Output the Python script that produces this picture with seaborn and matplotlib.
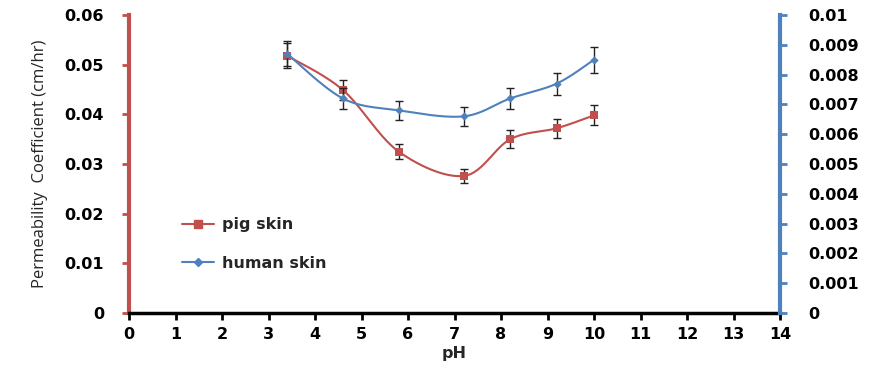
import numpy as np
import pandas as pd
import seaborn as sns
import matplotlib.pyplot as plt
from matplotlib.lines import Line2D

# pH values and measured permeability coefficients (cm/hr)
ph = [3.4, 4.6, 5.8, 7.2, 8.2, 9.2, 10.0]
pig_skin = [0.0518, 0.0449, 0.0325, 0.0276, 0.0350, 0.0372, 0.0398]
pig_err = [0.0025, 0.0020, 0.0015, 0.0014, 0.0018, 0.0019, 0.0020]
human_skin = [0.0087, 0.0072, 0.0068, 0.0066, 0.0072, 0.0077, 0.0085]
human_err = [0.00042, 0.00036, 0.00033, 0.00032, 0.00035, 0.00037, 0.00043]

left_ticks = [0, 0.01, 0.02, 0.03, 0.04, 0.05, 0.06]
left_labels = ["0", "0.01", "0.02", "0.03", "0.04", "0.05", "0.06"]
right_ticks = [i / 1000 for i in range(11)]
right_labels = ["0"] + [f"{v:.3f}" for v in right_ticks[1:-1]] + ["0.01"]
x_ticks = list(range(15))

RED = "#C0504D"
BLUE = "#4F81BD"


def smooth(xs, ys, n=30):
    """Cardinal (Catmull-Rom) spline through the points, as spreadsheet 'smoothed lines'."""
    p = np.column_stack([xs, ys]).astype(float)
    ext = np.vstack([p[0], p, p[-1]])
    out = []
    for i in range(len(p) - 1):
        p0, p1, p2, p3 = ext[i], ext[i + 1], ext[i + 2], ext[i + 3]
        c1 = p1 + (p2 - p0) / 6.0
        c2 = p2 - (p3 - p1) / 6.0
        t = np.linspace(0, 1, n)[:, None]
        seg = ((1 - t) ** 3) * p1 + 3 * ((1 - t) ** 2) * t * c1 + 3 * (1 - t) * t ** 2 * c2 + t ** 3 * p2
        out.append(seg if i == 0 else seg[1:])
    seg = np.vstack(out)
    return seg[:, 0], seg[:, 1]


sns.set_style("white")
plt.rcParams["font.family"] = ["DejaVu Sans"]

fig = plt.figure(figsize=(8.76, 3.66), dpi=100)
ax = fig.add_axes([129 / 876, 1 - 313 / 366, 651 / 876, 298 / 366])
ax2 = ax.twinx()

# pig skin on the left axis
sx, sy = smooth(ph, pig_skin)
sns.lineplot(x=sx, y=sy, ax=ax, color=RED, linewidth=1.5, sort=False, zorder=2)
ax.errorbar(ph, pig_skin, yerr=pig_err, fmt="none", ecolor="#222222",
            elinewidth=1.0, capsize=2.6, capthick=1.0, zorder=3)
sns.scatterplot(x=ph, y=pig_skin, ax=ax, marker="s", color=RED, s=36,
                edgecolor=RED, linewidth=0, zorder=4)

# human skin on the right axis
hx, hy = smooth(ph, human_skin)
sns.lineplot(x=hx, y=hy, ax=ax2, color=BLUE, linewidth=1.5, sort=False, zorder=2)
ax2.errorbar(ph, human_skin, yerr=human_err, fmt="none", ecolor="#222222",
             elinewidth=1.0, capsize=2.6, capthick=1.0, zorder=3)
sns.scatterplot(x=ph, y=human_skin, ax=ax2, marker="D", color=BLUE, s=18,
                edgecolor=BLUE, linewidth=0, zorder=4)

ax.set_xlim(0, 14)
ax.set_ylim(0, 0.06)
ax2.set_ylim(0, 0.01)

bold = dict(fontweight="bold", fontsize=11.5)
ax.set_xticks(x_ticks)
ax.set_xticklabels([str(t) for t in x_ticks], **bold)
ax.set_yticks(left_ticks)
ax.set_yticklabels(left_labels, **bold)
ax2.set_yticks(right_ticks)
ax2.set_yticklabels(right_labels, **bold)

ax.set_xlabel("pH", fontweight="bold", fontsize=11.5, labelpad=3)
ax.set_ylabel("Permeability  Coefficient (cm/hr)", fontsize=12, labelpad=12,
              family="Open Sans")

for a in (ax, ax2):
    a.spines["top"].set_visible(False)
    a.grid(False)
ax.spines["left"].set_color(RED)
ax.spines["left"].set_linewidth(3)
ax.spines["bottom"].set_color("black")
ax.spines["bottom"].set_linewidth(2.5)
ax.spines["right"].set_visible(False)
ax2.spines["left"].set_visible(False)
ax2.spines["bottom"].set_visible(False)
ax2.spines["right"].set_color(BLUE)
ax2.spines["right"].set_linewidth(3)

ax.tick_params(axis="y", colors=RED, labelcolor="black", direction="out",
               length=5, width=2, pad=13, left=True)
ax.tick_params(axis="x", colors="black", direction="out", length=5, width=2,
               pad=5, bottom=True)
ax2.tick_params(axis="y", colors=BLUE, labelcolor="black", direction="out",
                length=5, width=2, pad=15, right=True)

handles = [
    Line2D([], [], color=RED, marker="s", markersize=6, linewidth=1.5),
    Line2D([], [], color=BLUE, marker="D", markersize=4, linewidth=1.5),
]
ax.legend(handles, ["pig skin", "human skin"], loc="upper left",
          bbox_to_anchor=(0.06, 0.37), frameon=False, labelspacing=1.5,
          handlelength=2.0, handletextpad=0.5,
          prop=dict(weight="bold", size=11.5))

fig.savefig("out.png", dpi=100)
